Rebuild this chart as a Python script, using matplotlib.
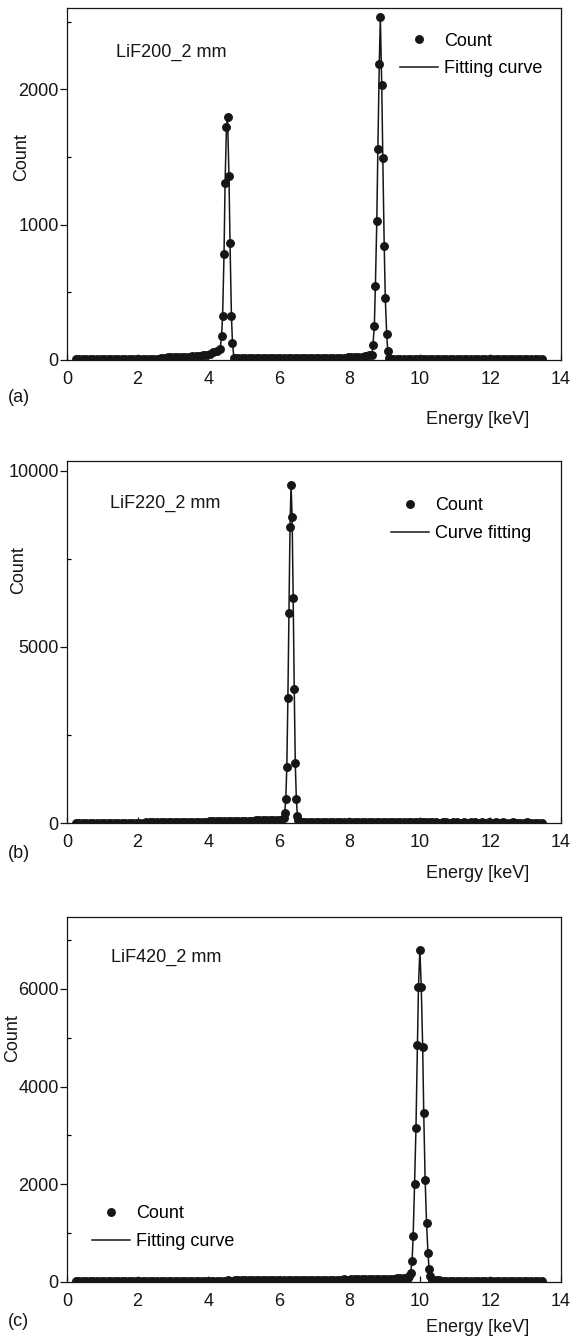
import numpy as np
import matplotlib
matplotlib.use("Agg")
from matplotlib import pyplot as plt
from matplotlib.ticker import MultipleLocator

plt.rcParams['font.family'] = ['Liberation Sans', 'DejaVu Sans']
plt.rcParams['font.size'] = 13

nan = np.nan
ink = '#161616'

# background channels, 0.25 .. 13.45 keV every 0.1 keV (nan = under a peak)
bg_energy = np.round(np.arange(0.25, 13.46, 0.1), 2)

# (a) LiF200_2 mm
bg_a = [6, 5, 5, 6, 5, 5, 6, 5, 5, 6,
        5, 6, 5, 5, 6, 5, 5, 6, 5, 6,
        6, 7, 8, 10, 16, 18, 20, 22, 20, 19,
        22, 25, 24, 26, 28, 30, 34, 40, 48, 58,
        68, nan, nan, nan, nan, 12, 14, 13, 15, 14,
        15, 14, 16, 15, 14, 16, 18, 15, 16, 15,
        14, 16, 15, 17, 16, 15, 14, 16, 15, 17,
        16, 15, 17, 18, 16, 17, 18, 20, 19, 21,
        22, 25, 28, 35, nan, nan, nan, nan, nan, 10,
        8, 7, 8, 7, 6, 7, 6, 7, 6, 6,
        6, 5, 6, 6, 5, 6, 5, 6, 6, 5,
        6, 5, 5, 6, 5, 6, 5, 5, 6, 5,
        5, 6, 5, 5, 6, 5, 5, 6, 5, 5,
        5, 4, 4]
peak_a_energy = [4.34, 4.38, 4.41, 4.45, 4.48, 4.52, 4.55, 4.59, 4.62, 4.66, 4.69, 4.73,
                 8.64, 8.67, 8.71, 8.74, 8.78, 8.81, 8.85, 8.88, 8.92, 8.95, 8.99,
                 9.02, 9.06, 9.09, 9.13]
peak_a_count = [80, 180, 325, 780, 1310, 1720, 1795, 1360, 865, 325, 125, 17,
                36, 108, 253, 549, 1030, 1557, 2190, 2530, 2030, 1490, 843,
                458, 193, 65, 12]

# (b) LiF220_2 mm
bg_b = [10, 12, 10, 11, 12, 10, 11, 12, 10, 11,
        12, 11, 10, 12, 11, 12, 13, 12, 14, 13,
        15, 16, 18, 17, 20, 22, 21, 24, 26, 25,
        28, 30, 32, 35, 34, 38, 40, 42, 44, 46,
        48, 50, 52, 54, 56, 58, 60, 62, 64, 66,
        70, 72, 75, 78, 80, 82, 85, 88, 90, nan,
        nan, nan, nan, nan, 40, 30, 25, 22, 20, 20,
        20, 18, 19, 20, 18, 17, 18, 19, 17, 18,
        17, 18, 16, 17, 18, 16, 17, 16, 18, 17,
        16, 17, 15, 16, 17, 15, 16, 17, 15, 16,
        15, 16, 15, 14, 16, 15, 14, 15, 16, 14,
        15, 14, 15, 16, 14, 15, 14, 15, 14, 15,
        14, 15, 14, 13, 15, 14, 13, 14, 15, 13,
        13, 12, 12]
peak_b_energy = [6.14, 6.17, 6.20, 6.23, 6.26, 6.29, 6.32, 6.35,
                 6.38, 6.41, 6.44, 6.47, 6.50, 6.53, 6.56]
peak_b_count = [150, 290, 680, 1600, 3540, 5960, 8400, 9600,
                8680, 6380, 3800, 1690, 670, 200, 80]

# (c) LiF420_2 mm
bg_c = [20, 22, 21, 20, 22, 21, 20, 22, 21, 22,
        21, 22, 20, 21, 22, 21, 22, 23, 22, 21,
        22, 23, 22, 24, 23, 22, 24, 25, 23, 24,
        25, 24, 26, 25, 27, 26, 28, 27, 26, 28,
        28, 30, 29, 31, 30, 32, 31, 33, 32, 34,
        33, 35, 34, 36, 35, 37, 38, 36, 38, 40,
        39, 41, 40, 42, 43, 41, 44, 45, 43, 46,
        47, 45, 48, 50, 49, 51, 52, 50, 53, 55,
        54, 56, 58, 57, 60, 62, 61, 64, 66, 68,
        70, 72, 75, 78, 85, nan, nan, nan, nan, nan,
        nan, 40, 35, 32, 30, 28, 30, 28, 27, 28,
        27, 26, 28, 27, 26, 27, 25, 26, 27, 26,
        25, 26, 24, 25, 26, 24, 25, 26, 30, 25,
        24, 22, 20]
peak_c_energy = [9.70, 9.74, 9.78, 9.81, 9.85, 9.89, 9.93, 9.96, 10.00,
                 10.04, 10.08, 10.11, 10.15, 10.19, 10.23, 10.26, 10.30]
peak_c_count = [120, 190, 430, 950, 2000, 3160, 4860, 6030, 6800,
                6030, 4800, 3450, 2080, 1200, 600, 270, 120]


def draw_panel(ax, bg, pe, pc, ymax, major, minor, name, curve_label,
               leg_xy, name_xy, ylab_xy):
    bg = np.array(bg, dtype=float)
    keep = ~np.isnan(bg)
    e = np.concatenate([bg_energy[keep], pe])
    c = np.concatenate([bg[keep], pc])
    order = np.argsort(e)
    e, c = e[order], c[order]

    line, = ax.plot(e, c, '-', color=ink, lw=1.1, label=curve_label, zorder=2)
    pts, = ax.plot(e, c, 'o', ls='none', ms=5.4, color=ink, label='Count', zorder=3)

    ax.set_xlim(0, 14)
    ax.set_ylim(0, ymax)
    ax.xaxis.set_major_locator(MultipleLocator(2))
    ax.yaxis.set_major_locator(MultipleLocator(major))
    ax.yaxis.set_minor_locator(MultipleLocator(minor))
    ax.tick_params(axis='x', direction='in', length=4, width=0.9, pad=8, colors=ink)
    ax.tick_params(axis='y', which='major', direction='out', length=5, width=0.9, pad=1, colors=ink)
    ax.tick_params(axis='y', which='minor', direction='in', length=3, width=0.9)
    for s in ax.spines.values():
        s.set_linewidth(0.9)
        s.set_color(ink)

    ax.set_ylabel('Count', color=ink)
    ax.yaxis.set_label_coords(*ylab_xy)
    ax.text(name_xy[0], name_xy[1], name, transform=ax.transAxes,
            ha='left', va='center', color=ink)
    ax.legend(handles=[pts, line], loc='upper left', bbox_to_anchor=leg_xy,
              frameon=False, borderpad=0, borderaxespad=0, handlelength=2.1,
              handletextpad=0.35, labelspacing=0.6)


W, H = 574, 1340
fig = plt.figure(figsize=(W / 100, H / 100), dpi=100)


def add_axes(top, bottom, left=67, right=561):
    return fig.add_axes([left / W, 1 - bottom / H, (right - left) / W, (bottom - top) / H])


ax_a = add_axes(8, 360)
ax_b = add_axes(461, 823)
ax_c = add_axes(917, 1282)

draw_panel(ax_a, bg_a, peak_a_energy, peak_a_count, 2600, 1000, 500,
           'LiF200_2 mm', 'Fitting curve', (0.674, 0.93), (0.1, 0.875), (-0.075, 0.577))
draw_panel(ax_b, bg_b, peak_b_energy, peak_b_count, 10280, 5000, 2500,
           'LiF220_2 mm', 'Curve fitting', (0.656, 0.90), (0.087, 0.884), (-0.081, 0.70))
draw_panel(ax_c, bg_c, peak_c_energy, peak_c_count, 7470, 2000, 1000,
           'LiF420_2 mm', 'Fitting curve', (0.05, 0.21), (0.09, 0.89), (-0.093, 0.668))

for tag, ty, ey in [('(a)', 398, 420), ('(b)', 853, 873), ('(c)', 1322, 1328)]:
    fig.text(8 / W, 1 - ty / H, tag, ha='left', va='center', color=ink)
    fig.text(478 / W, 1 - ey / H, 'Energy [keV]', ha='center', va='center', color=ink)

fig.savefig('out.png', dpi=100, facecolor='white')
